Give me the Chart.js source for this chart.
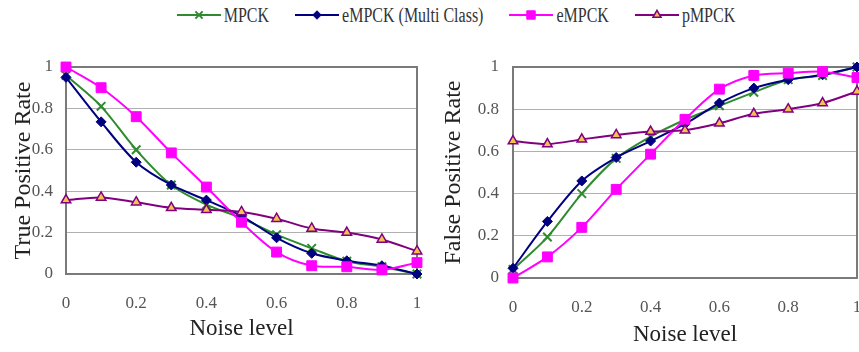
<!DOCTYPE html>
<html>
<head>
<meta charset="utf-8">
<script src="https://cdn.jsdelivr.net/npm/chart.js@4.4.0/dist/chart.umd.min.js"></script>
<style>
  html, body { margin: 0; padding: 0; background: #fff; overflow: hidden; width: 859px; height: 352px; }
  canvas.plot { position: absolute; }
  #tpr { left: 0; top: 40px; }
  #fpr { left: 430px; top: 40px; }
  #legend {
    position: absolute; left: 0; top: 4px; width: 859px; height: 22px;
    display: flex; justify-content: center; align-items: center;
    padding-left: 53px; box-sizing: border-box;
  }
  #legend .item { display: flex; align-items: center; margin: 0 13px; }
  #legend span {
    display: inline-block; margin-left: 3px; color: #333;
    font-family: 'Liberation Serif', 'Times New Roman', serif; font-size: 16px;
    transform: scaleY(1.3);
  }
</style>
</head>
<body>
<div id="legend"></div>
<canvas id="tpr" class="plot" width="430" height="312"></canvas>
<canvas id="fpr" class="plot" width="440" height="312"></canvas>
<script>
// noise levels (x axis)
const noise = [0, 0.1, 0.2, 0.3, 0.4, 0.5, 0.6, 0.7, 0.8, 0.9, 1];
const seriesNames = ['MPCK', 'eMPCK (Multi Class)', 'eMPCK', 'pMPCK'];

// true positive rate
const tprMPCK  = [0.96, 0.81, 0.60, 0.43, 0.335, 0.27, 0.19, 0.124, 0.062, 0.035, 0.0];
const tprMulti = [0.95, 0.735, 0.54, 0.43, 0.357, 0.28, 0.175, 0.10, 0.064, 0.04, 0.0];
const tprE     = [1.0, 0.90, 0.76, 0.585, 0.42, 0.25, 0.106, 0.04, 0.035, 0.02, 0.055];
const tprP     = [0.357, 0.37, 0.347, 0.32, 0.31, 0.30, 0.267, 0.22, 0.20, 0.167, 0.11];

// false positive rate
const fprMPCK  = [0.04, 0.194, 0.40, 0.567, 0.67, 0.75, 0.816, 0.88, 0.94, 0.96, 1.0];
const fprMulti = [0.046, 0.268, 0.46, 0.571, 0.649, 0.73, 0.829, 0.90, 0.94, 0.963, 1.0];
const fprE     = [0.0, 0.10, 0.24, 0.42, 0.587, 0.752, 0.895, 0.96, 0.971, 0.978, 0.95];
const fprP     = [0.649, 0.635, 0.657, 0.678, 0.694, 0.70, 0.733, 0.778, 0.80, 0.829, 0.884];

const yTicks = [0, 0.2, 0.4, 0.6, 0.8, 1];

// look of each series
const looks = [
  { color: '#2e8b2e', fill: '#2e8b2e', point: 'crossRot', r: 6, bw: 2 },
  { color: '#000080', fill: '#000080', point: 'rectRot', r: 5, bw: 1 },
  { color: '#ff00ff', fill: '#ff00ff', point: 'rect', r: 7, bw: 1 },
  { color: '#800080', fill: '#f2c14e', point: 'triangle', r: 5.5, bw: 1.5 }
];

const serif = "'Liberation Serif', 'Times New Roman', serif";
const fmt = v => String(Math.round(v * 10) / 10);

const frame = {
  id: 'frame',
  beforeDatasetsDraw(chart) {
    const { ctx, chartArea: a } = chart;
    ctx.save();
    ctx.strokeStyle = '#7a7a7a';
    ctx.lineWidth = 2;
    ctx.strokeRect(a.left, a.top, a.right - a.left, a.bottom - a.top);
    ctx.restore();
  }
};

function makeSets(lists) {
  return lists.map((vals, i) => ({
    label: seriesNames[i],
    data: noise.map((x, j) => ({ x: x, y: vals[j] })),
    borderColor: looks[i].color,
    backgroundColor: looks[i].fill,
    pointStyle: looks[i].point,
    pointRadius: looks[i].r,
    pointBorderWidth: looks[i].bw,
    pointBorderColor: looks[i].color,
    pointBackgroundColor: looks[i].fill,
    borderWidth: 2,
    tension: 0.3,
    clip: false,
    order: 4 - i
  }));
}

function makeChart(id, lists, title, o) {
  return new Chart(document.getElementById(id), {
    type: 'line',
    data: { datasets: makeSets(lists) },
    options: {
      responsive: false,
      animation: false,
      layout: { padding: { top: 27, right: 13, left: 0, bottom: 0 } },
      plugins: { legend: { display: false }, tooltip: { enabled: false } },
      scales: {
        x: {
          type: 'linear', min: 0, max: 1,
          afterFit: s => { s.height = o.xh; s.paddingLeft = 0; s.paddingRight = 0; },
          grid: { display: false, drawTicks: false },
          border: { display: false },
          ticks: { stepSize: 0.2, padding: 19, color: '#555', callback: fmt, maxRotation: 0, font: { family: serif, size: 17 } },
          title: { display: true, text: 'Noise level', color: '#222', padding: { top: 0, bottom: o.tpad }, font: { family: serif, size: 23 } }
        },
        y: {
          min: 0, max: 1,
          afterFit: s => { s.width = o.yw; },
          afterBuildTicks: s => { s.ticks = yTicks.map(v => ({ value: v })); },
          grid: { color: '#b0b0b0', lineWidth: 1, drawTicks: false },
          border: { display: false },
          ticks: { padding: o.ypad, color: '#555', callback: fmt, font: { family: serif, size: 17 } },
          title: { display: true, text: title, color: '#222', padding: { top: 9, bottom: 0 }, font: { family: serif, size: 24 } }
        }
      }
    },
    plugins: [frame]
  });
}

makeChart('tpr', [tprMPCK, tprMulti, tprE, tprP], 'True Positive Rate',
  { xh: 78, yw: 66, tpad: 9, ypad: 13 });
makeChart('fpr', [fprMPCK, fprMulti, fprE, fprP], 'False Positive Rate',
  { xh: 74, yw: 83, tpad: 3, ypad: 14 });

// shared legend: a short line with the series marker, then the name
const legendBox = document.getElementById('legend');
seriesNames.forEach((name, i) => {
  const lk = looks[i];
  const item = document.createElement('div');
  item.className = 'item';
  const c = document.createElement('canvas');
  c.width = 44; c.height = 20;
  const ctx = c.getContext('2d');
  ctx.strokeStyle = lk.color;
  ctx.lineWidth = 2;
  ctx.beginPath(); ctx.moveTo(0, 10); ctx.lineTo(44, 10); ctx.stroke();
  ctx.fillStyle = lk.fill;
  ctx.lineWidth = lk.bw;
  Chart.helpers.drawPoint(ctx, { pointStyle: lk.point, radius: lk.r * 0.85, rotation: 0, borderWidth: lk.bw }, 22, 10);
  const t = document.createElement('span');
  t.textContent = name;
  item.appendChild(c);
  item.appendChild(t);
  legendBox.appendChild(item);
});
</script>
</body>
</html>
